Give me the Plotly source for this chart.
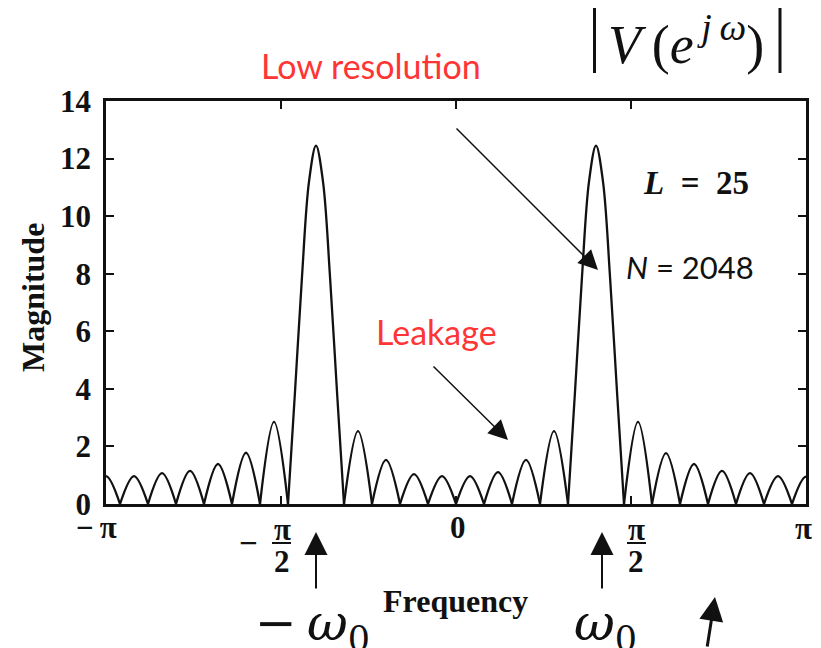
import plotly.graph_objects as go

# ---------------- data (frequency in units of pi, magnitude) ----------------
# side lobes: left null, peak frequency, peak magnitude, right null
side_start = [-1.04, -0.96, -0.88, -0.80, -0.72, -0.64, -0.56,
              -0.32, -0.24, -0.16, -0.08, 0.00, 0.08, 0.16, 0.24,
              0.48, 0.56, 0.64, 0.72, 0.80, 0.88, 0.96]
side_peak_freq = [-1.00, -0.92, -0.84, -0.76, -0.68, -0.60, -0.52,
                  -0.28, -0.20, -0.12, -0.04, 0.04, 0.12, 0.20, 0.28,
                  0.52, 0.60, 0.68, 0.76, 0.84, 0.92, 1.00]
side_peak_mag = [0.97, 0.97, 1.07, 1.15, 1.39, 1.78, 2.85,
                 2.53, 1.53, 1.04, 0.97, 0.97, 1.11, 1.53, 2.53,
                 2.85, 1.77, 1.39, 1.15, 1.07, 0.97, 0.95]
side_end = [-0.96, -0.88, -0.80, -0.72, -0.64, -0.56, -0.48,
            -0.24, -0.16, -0.08, 0.00, 0.08, 0.16, 0.24, 0.32,
            0.56, 0.64, 0.72, 0.80, 0.88, 0.96, 1.04]

# main lobes (around -omega0 and +omega0)
main_left_freq = [-0.48, -0.46, -0.44, -0.42, -0.40, -0.38, -0.36, -0.34, -0.32]
main_left_mag = [0.0, 3.9, 7.9, 11.2, 12.45, 11.2, 7.9, 3.9, 0.0]
main_right_freq = [0.32, 0.34, 0.36, 0.38, 0.40, 0.42, 0.44, 0.46, 0.48]
main_right_mag = [0.0, 3.9, 7.9, 11.2, 12.45, 11.2, 7.9, 3.9, 0.0]

y_ticks = [0, 2, 4, 6, 8, 10, 12, 14]
x_ticks = [-1, -0.5, 0, 0.5, 1]

# ---------------- build line segments ----------------
xs, ys = [], []
for s, pf, pm, e in zip(side_start, side_peak_freq, side_peak_mag, side_end):
    xs += [s, pf, e, None]
    ys += [0, pm, 0, None]
xs += main_left_freq + [None] + main_right_freq
ys += main_left_mag + [None] + main_right_mag

W, H = 821, 648
ML, MR, MT, MB = 106, 15, 101, 144
PW, PH = W - ML - MR, H - MT - MB


def px(xp):
    return (xp - ML) / PW


def py(yp):
    return (H - MB - yp) / PH


SERIF = "Liberation Serif"
GSERIF = "DejaVu Serif"
SANS = "Lato"
INK = "#111111"
RED = "#ff3535"

fig = go.Figure()
fig.add_trace(go.Scatter(
    x=xs, y=ys, mode="lines", connectgaps=False,
    line=dict(color=INK, width=2.3, shape="spline", smoothing=1),
    hoverinfo="skip", showlegend=False))

ann = []


def txt(x, y, text, size, color=INK, family=SERIF, weight="normal", xref="paper",
        xshift=0, angle=0, xanchor="center", yanchor="middle"):
    ann.append(dict(x=x, y=y, xref=xref, yref="paper", text=text, showarrow=False,
                    xshift=xshift, textangle=angle, xanchor=xanchor, yanchor=yanchor,
                    font=dict(family=family, size=size, color=color, weight=weight)))


# x tick labels (positioned on the data scale)
txt(-1, py(527), "\u2212\u2009\u03c0", 31, xref="x", xshift=-10, weight="bold")
txt(0, py(527), "0", 31, xref="x", xshift=2, weight="bold")
txt(1, py(528), "\u03c0", 31, xref="x", xshift=-3, weight="bold")
txt(-0.5, py(543), "\u2212", 33, xref="x", xshift=-33, weight="bold")
txt(-0.5, py(529), "\u03c0", 31, xref="x", xshift=1, weight="bold")
txt(-0.5, py(561), "2", 31, xref="x", xshift=1, weight="bold")
txt(0.5, py(529), "\u03c0", 31, xref="x", xshift=5, weight="bold")
txt(0.5, py(561), "2", 31, xref="x", xshift=5, weight="bold")

# axis titles
txt(px(33), py(298), "Magnitude", 32, weight="bold", angle=-90)
txt(px(455), py(601), "Frequency", 32, weight="bold")

# in-plot labels
txt(px(696), py(183), "<i>L</i>\u2002=\u200225", 33, weight="bold")
txt(px(690), py(267), "<i>N</i> = 2048", 31, family=SANS)
txt(px(371), py(66), "Low resolution", 34, color=RED, family=SANS)
txt(px(436), py(331), "Leakage", 34, color=RED, family=SANS)
txt(px(686), py(40), "<i>V</i>\u2009(<i>e</i><sup>\u2009<i>j</i>\u2009<i>\u03c9</i></sup>)", 54)

# omega_0 labels
txt(px(312), py(626), "\u2212\u2009<i>\u03c9</i><sub>0</sub>", 50, family=GSERIF)
txt(px(605), py(626), "<i>\u03c9</i><sub>0</sub>", 50, family=GSERIF)


def arrow(tipx, tipy, tailx, taily, width, size, head=2):
    ann.append(dict(x=px(tipx), y=py(tipy), xref="paper", yref="paper",
                    ax=tailx - tipx, ay=taily - tipy, text="", showarrow=True,
                    arrowhead=head, arrowwidth=width, arrowsize=size, arrowcolor=INK))


arrow(598, 270, 455, 127, 1.5, 2.6)
arrow(508, 440, 432, 365, 1.5, 2.6)
arrow(316, 532, 316, 590, 2, 2.3)
arrow(602, 532, 602, 590, 2, 2.3)
arrow(715, 597, 707, 655, 3, 1.6)

shapes = [
    dict(type="line", xref="paper", yref="paper", x0=px(594.5), x1=px(594.5),
         y0=py(8), y1=py(73), line=dict(color=INK, width=3)),
    dict(type="line", xref="paper", yref="paper", x0=px(780), x1=px(780),
         y0=py(8), y1=py(73), line=dict(color=INK, width=3)),
    dict(type="line", xref="paper", yref="paper", x0=px(272), x1=px(291),
         y0=py(543), y1=py(543), line=dict(color=INK, width=2)),
    dict(type="line", xref="paper", yref="paper", x0=px(627), x1=px(646),
         y0=py(543), y1=py(543), line=dict(color=INK, width=2)),
]

fig.update_layout(
    width=W, height=H, margin=dict(l=ML, r=MR, t=MT, b=MB),
    paper_bgcolor="white", plot_bgcolor="white",
    annotations=ann, shapes=shapes, showlegend=False,
    xaxis=dict(range=[-1, 1], tickvals=x_ticks, showticklabels=False,
               ticks="inside", ticklen=8, tickwidth=2, tickcolor=INK,
               showline=True, linewidth=2.5, linecolor=INK, mirror="ticks",
               showgrid=False, zeroline=False, fixedrange=True),
    yaxis=dict(range=[0, 14], tickvals=y_ticks, ticks="inside", ticklen=8,
               tickwidth=2, tickcolor=INK, showline=True, linewidth=2.5,
               linecolor=INK, mirror="ticks", showgrid=False, zeroline=False,
               ticklabelstandoff=6,
               tickfont=dict(family=SERIF, size=31, color=INK, weight="bold"),
               fixedrange=True),
)

fig.write_html("out.html")
